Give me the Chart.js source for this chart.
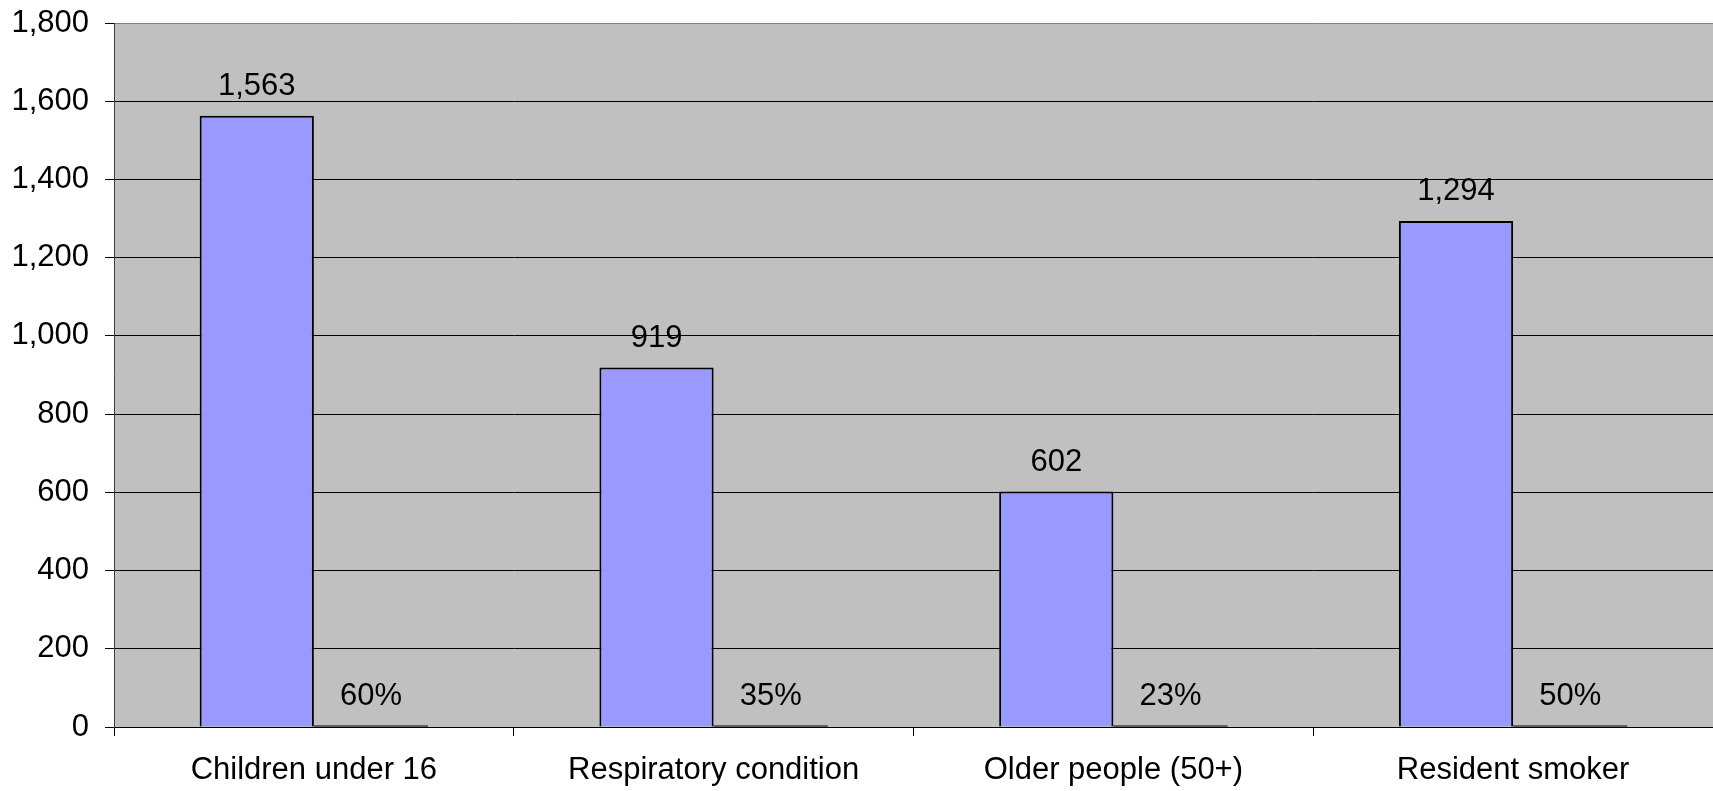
<!DOCTYPE html>
<html>
<head>
<meta charset="utf-8">
<script src="https://cdn.jsdelivr.net/npm/chart.js@4.4.1/dist/chart.umd.min.js"></script>
<style>
  html, body { margin: 0; padding: 0; background: #ffffff; }
  #wrap { width: 1713px; height: 791px; position: relative; }
</style>
</head>
<body>
<div id="wrap"><canvas id="chart" width="1713" height="791"></canvas></div>
<script>
// Categories and series
const categories = ['Children under 16', 'Respiratory condition', 'Older people (50+)', 'Resident smoker'];
const counts = [1563, 919, 602, 1294];
const shares = [0.60, 0.35, 0.23, 0.50];
const yTicks = [0, 200, 400, 600, 800, 1000, 1200, 1400, 1600, 1800];

const FONT = 'Liberation Sans, Arial, sans-serif';
const FS = 31;

// Grey plot background behind the bars
const plotBackground = {
  id: 'plotBackground',
  beforeDraw(chart) {
    const { ctx, chartArea: a } = chart;
    ctx.save();
    ctx.fillStyle = '#C0C0C0';
    ctx.fillRect(a.left, a.top, a.right - a.left, a.bottom - a.top);
    ctx.restore();
  }
};

// Value labels above each bar
const valueLabels = {
  id: 'valueLabels',
  afterDatasetsDraw(chart) {
    const { ctx } = chart;
    ctx.save();
    ctx.font = FS + 'px ' + FONT;
    ctx.fillStyle = '#000';
    ctx.textAlign = 'center';
    ctx.textBaseline = 'alphabetic';
    chart.data.datasets.forEach((ds, di) => {
      const meta = chart.getDatasetMeta(di);
      meta.data.forEach((bar, i) => {
        const v = ds.data[i];
        const txt = di === 0 ? v.toLocaleString('en-US') : Math.round(v * 100) + '%';
        ctx.fillText(txt, bar.x, bar.y - 21);
      });
    });
    ctx.restore();
  }
};

new Chart(document.getElementById('chart'), {
  type: 'bar',
  data: {
    labels: categories,
    datasets: [
      {
        label: 'Number',
        data: counts,
        backgroundColor: '#9999FF',
        borderColor: '#000000',
        borderWidth: 2,
        borderSkipped: 'start',
        categoryPercentage: 2 / 3.5,
        barPercentage: 1.0
      },
      {
        label: 'Share',
        data: shares,
        backgroundColor: '#000000',
        borderWidth: 0,
        minBarLength: 1.5,
        categoryPercentage: 2 / 3.5,
        barPercentage: 1.0
      }
    ]
  },
  options: {
    responsive: false,
    animation: false,
    devicePixelRatio: 1,
    layout: { padding: { top: 23, right: 0, left: 0, bottom: 0 } },
    plugins: {
      legend: { display: false },
      tooltip: { enabled: false },
      title: { display: false }
    },
    scales: {
      x: {
        offset: true,
        grid: {
          offset: true,
          drawOnChartArea: false,
          drawTicks: true,
          tickLength: 9,
          tickColor: '#000000',
          lineWidth: 1
        },
        border: { display: true, color: '#000000', width: 1 },
        ticks: {
          color: '#000000',
          font: { family: FONT, size: FS },
          padding: 16,
          maxRotation: 0,
          autoSkip: false
        },
        afterFit(scale) {
          scale.height = 64;
          scale.paddingLeft = 0;
          scale.paddingRight = 0;
        }
      },
      y: {
        min: 0,
        max: 1800,
        afterBuildTicks(scale) { scale.ticks = yTicks.map(v => ({ value: v })); },
        grid: {
          color: (c) => (c.tick && c.tick.value === 1800 ? '#808080' : '#000000'),
          lineWidth: 1,
          drawTicks: true,
          tickLength: 9,
          tickColor: '#000000'
        },
        border: { display: true, color: '#404040', width: 1 },
        ticks: {
          color: '#000000',
          font: { family: FONT, size: FS },
          padding: 16,
          callback: (v) => Number(v).toLocaleString('en-US')
        },
        afterFit(scale) {
          scale.width = 114;
          scale.paddingTop = 0;
          scale.paddingBottom = 0;
        }
      }
    }
  },
  plugins: [plotBackground, valueLabels]
});
</script>
</body>
</html>
